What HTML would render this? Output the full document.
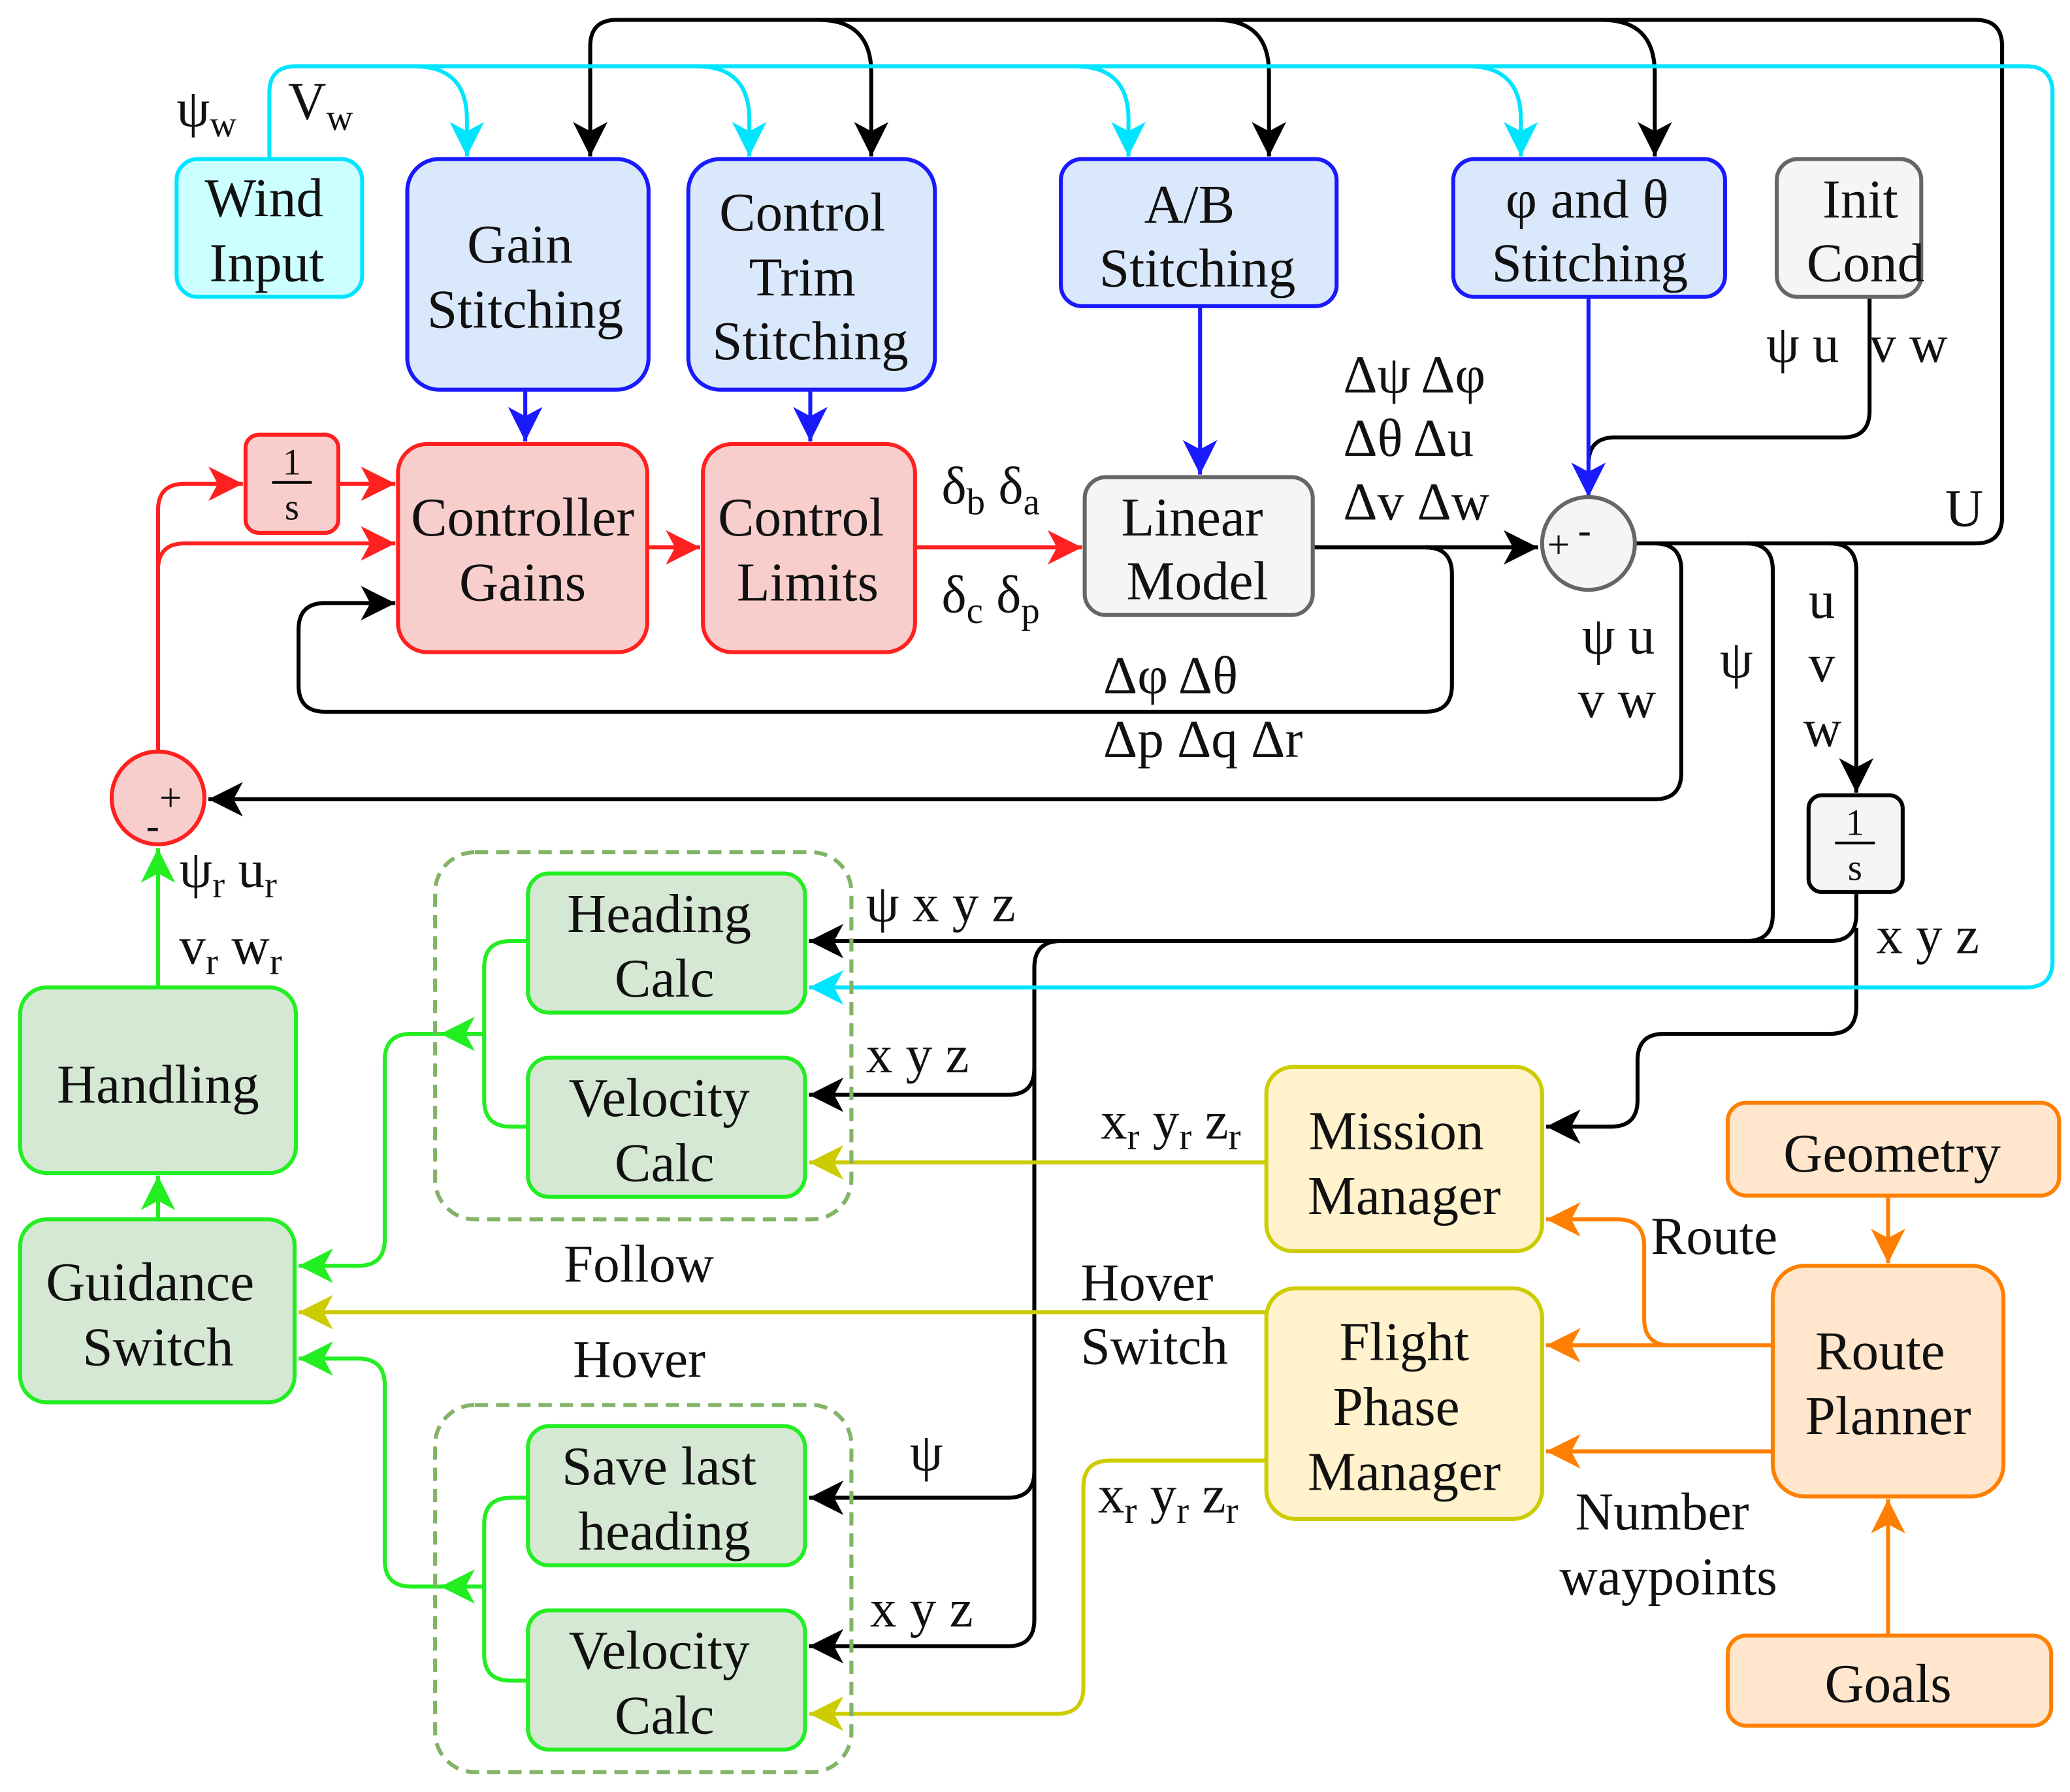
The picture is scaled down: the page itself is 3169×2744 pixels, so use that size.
<!DOCTYPE html>
<html><head><meta charset="utf-8"><style>
html,body{margin:0;padding:0;background:#fff}
svg{display:block}
text{font-family:"Liberation Serif",serif;fill:#111}
.b{font-size:41px;text-anchor:middle}
.l{font-size:40px}
</style></head><body>
<svg width="3169" height="2744" viewBox="0 0 1561 1352" xmlns="http://www.w3.org/2000/svg">
<defs>
<marker id="ak" markerUnits="userSpaceOnUse" markerWidth="30" markerHeight="30" refX="26" refY="13" orient="auto"><path d="M0,0 L26,13 L0,26 L7,13 Z" fill="#000"/></marker>
<marker id="ac" markerUnits="userSpaceOnUse" markerWidth="30" markerHeight="30" refX="26" refY="13" orient="auto"><path d="M0,0 L26,13 L0,26 L7,13 Z" fill="#00e5ff"/></marker>
<marker id="ab" markerUnits="userSpaceOnUse" markerWidth="30" markerHeight="30" refX="26" refY="13" orient="auto"><path d="M0,0 L26,13 L0,26 L7,13 Z" fill="#1a1aff"/></marker>
<marker id="ar" markerUnits="userSpaceOnUse" markerWidth="30" markerHeight="30" refX="26" refY="13" orient="auto"><path d="M0,0 L26,13 L0,26 L7,13 Z" fill="#ff2020"/></marker>
<marker id="ag" markerUnits="userSpaceOnUse" markerWidth="30" markerHeight="30" refX="26" refY="13" orient="auto"><path d="M0,0 L26,13 L0,26 L7,13 Z" fill="#22ee22"/></marker>
<marker id="ay" markerUnits="userSpaceOnUse" markerWidth="30" markerHeight="30" refX="26" refY="13" orient="auto"><path d="M0,0 L26,13 L0,26 L7,13 Z" fill="#cccc00"/></marker>
<marker id="ao" markerUnits="userSpaceOnUse" markerWidth="30" markerHeight="30" refX="26" refY="13" orient="auto"><path d="M0,0 L26,13 L0,26 L7,13 Z" fill="#ff8000"/></marker>
</defs>
<g fill="none" stroke-width="3">
<g stroke="#000">
<path d="M1233,410 H1490 Q1510,410 1510,390 V35 Q1510,15 1490,15 H465 Q445,15 445,35 V118" marker-end="url(#ak)"/>
<path d="M617,15 Q657,15 657,55 V118" marker-end="url(#ak)"/>
<path d="M917,15 Q957,15 957,55 V118" marker-end="url(#ak)"/>
<path d="M1208,15 Q1248,15 1248,55 V118" marker-end="url(#ak)"/>
<path d="M1410,224 V310 Q1410,330 1390,330 H1218 Q1198,330 1198,350"/>
<path d="M990,413 H1160" marker-end="url(#ak)"/>
<path d="M1075,413 Q1095,413 1095,433 V517 Q1095,537 1075,537 H245 Q225,537 225,517 V475 Q225,455 245,455 H298" marker-end="url(#ak)"/>
<path d="M1248,410 Q1268,410 1268,430 V583 Q1268,603 1248,603 H157" marker-end="url(#ak)"/>
<path d="M1317,410 Q1337,410 1337,430 V690 Q1337,710 1317,710 H610" marker-end="url(#ak)"/>
<path d="M1380,410 Q1400,410 1400,430 V598" marker-end="url(#ak)"/>
<path d="M1400,673 V690 Q1400,710 1380,710 H800 Q780,710 780,730 V1222 Q780,1242 760,1242 H610" marker-end="url(#ak)"/>
<path d="M780,806 Q780,826 760,826 H610" marker-end="url(#ak)"/>
<path d="M780,1110 Q780,1130 760,1130 H610" marker-end="url(#ak)"/>
<path d="M1400,700 V760 Q1400,780 1380,780 H1255 Q1235,780 1235,800 V830 Q1235,850 1215,850 H1166" marker-end="url(#ak)"/>
</g>
<g stroke="#00e5ff">
<path d="M203,120 V70 Q203,50 223,50 H1528 Q1548,50 1548,70 V725 Q1548,745 1528,745 H610" marker-end="url(#ac)"/>
<path d="M312,50 Q352,50 352,90 V118" marker-end="url(#ac)"/>
<path d="M525,50 Q565,50 565,90 V118" marker-end="url(#ac)"/>
<path d="M811,50 Q851,50 851,90 V118" marker-end="url(#ac)"/>
<path d="M1107,50 Q1147,50 1147,90 V118" marker-end="url(#ac)"/>
</g>
<g stroke="#1a1aff">
<path d="M396,294 V333" marker-end="url(#ab)"/>
<path d="M611,294 V333" marker-end="url(#ab)"/>
<path d="M905,231 V358" marker-end="url(#ab)"/>
<path d="M1198,224 V375" marker-end="url(#ab)"/>
</g>
<g stroke="#ff2020">
<path d="M488,413 H528" marker-end="url(#ar)"/>
<path d="M690,413 H816" marker-end="url(#ar)"/>
<path d="M119,567 V385 Q119,365 139,365 H183" marker-end="url(#ar)"/>
<path d="M119,430 Q119,410 139,410 H298" marker-end="url(#ar)"/>
<path d="M255,365 H298" marker-end="url(#ar)"/>
</g>
<g stroke="#22ee22">
<path d="M119,920 V887" marker-end="url(#ag)"/>
<path d="M119,745 V640" marker-end="url(#ag)"/>
<path d="M398,710 H385 Q365,710 365,730 V830 Q365,850 385,850 H398"/>
<path d="M365,780 H332" marker-end="url(#ag)"/>
<path d="M340,780 H310 Q290,780 290,800 V935 Q290,955 270,955 H225" marker-end="url(#ag)"/>
<path d="M398,1130 H385 Q365,1130 365,1150 V1248 Q365,1268 385,1268 H398"/>
<path d="M365,1197 H332" marker-end="url(#ag)"/>
<path d="M340,1197 H310 Q290,1197 290,1177 V1045 Q290,1025 270,1025 H225" marker-end="url(#ag)"/>
</g>
<g stroke="#cccc00">
<path d="M955,877 H610" marker-end="url(#ay)"/>
<path d="M955,990 H225" marker-end="url(#ay)"/>
<path d="M955,1102 H837 Q817,1102 817,1122 V1273 Q817,1293 797,1293 H610" marker-end="url(#ay)"/>
</g>
<g stroke="#ff8000">
<path d="M1424,902 V953" marker-end="url(#ao)"/>
<path d="M1424,1234 V1131" marker-end="url(#ao)"/>
<path d="M1337,1015 H1166" marker-end="url(#ao)"/>
<path d="M1260,1015 Q1240,1015 1240,995 V940 Q1240,920 1220,920 H1166" marker-end="url(#ao)"/>
<path d="M1337,1095 H1166" marker-end="url(#ao)"/>
</g>
<rect x="328" y="643" width="314" height="277" rx="30" stroke="#82b366" stroke-dasharray="10,6"/>
<rect x="328" y="1060" width="314" height="277" rx="30" stroke="#82b366" stroke-dasharray="10,6"/>
</g>
<g stroke-width="3">
<rect x="133" y="120" width="140" height="104" rx="16" fill="#ccffff" stroke="#00e5ff"/>
<rect x="307" y="120" width="182" height="174" rx="24" fill="#dae8fc" stroke="#1a1aff"/>
<rect x="519" y="120" width="186" height="174" rx="24" fill="#dae8fc" stroke="#1a1aff"/>
<rect x="800" y="120" width="208" height="111" rx="16" fill="#dae8fc" stroke="#1a1aff"/>
<rect x="1096" y="120" width="205" height="104" rx="16" fill="#dae8fc" stroke="#1a1aff"/>
<rect x="1340" y="120" width="109" height="104" rx="16" fill="#f5f5f5" stroke="#666"/>
<rect x="185" y="328" width="70" height="74" rx="10" fill="#f8cecc" stroke="#ff2020"/>
<rect x="300" y="335" width="188" height="157" rx="22" fill="#f8cecc" stroke="#ff2020"/>
<rect x="530" y="335" width="160" height="157" rx="22" fill="#f8cecc" stroke="#ff2020"/>
<rect x="818" y="360" width="172" height="104" rx="16" fill="#f5f5f5" stroke="#666"/>
<circle cx="1198" cy="410" r="35" fill="#f5f5f5" stroke="#666"/>
<circle cx="119" cy="602" r="35" fill="#f8cecc" stroke="#ff2020"/>
<rect x="1364" y="600" width="71" height="73" rx="10" fill="#f5f5f5" stroke="#000"/>
<rect x="398" y="659" width="209" height="105" rx="16" fill="#d5e8d4" stroke="#22ee22"/>
<rect x="398" y="798" width="209" height="105" rx="16" fill="#d5e8d4" stroke="#22ee22"/>
<rect x="15" y="745" width="208" height="140" rx="20" fill="#d5e8d4" stroke="#22ee22"/>
<rect x="15" y="920" width="207" height="138" rx="20" fill="#d5e8d4" stroke="#22ee22"/>
<rect x="398" y="1076" width="209" height="105" rx="16" fill="#d5e8d4" stroke="#22ee22"/>
<rect x="398" y="1215" width="209" height="105" rx="16" fill="#d5e8d4" stroke="#22ee22"/>
<rect x="955" y="805" width="208" height="139" rx="20" fill="#fff2cc" stroke="#cccc00"/>
<rect x="955" y="972" width="208" height="174" rx="22" fill="#fff2cc" stroke="#cccc00"/>
<rect x="1303" y="832" width="250" height="70" rx="14" fill="#ffe6cc" stroke="#ff8000"/>
<rect x="1337" y="955" width="174" height="174" rx="24" fill="#ffe6cc" stroke="#ff8000"/>
<rect x="1303" y="1234" width="244" height="68" rx="14" fill="#ffe6cc" stroke="#ff8000"/>
</g>
<text class="b" x="199" y="163">Wind</text><text class="b" x="201" y="212">Input</text>
<text class="b" x="392" y="198">Gain</text><text class="b" x="396" y="247">Stitching</text>
<text class="b" x="605" y="174">Control</text><text class="b" x="605" y="223">Trim</text><text class="b" x="611" y="271">Stitching</text>
<text class="b" x="897" y="168">A/B</text><text class="b" x="903" y="216">Stitching</text>
<text class="b" x="1197" y="164">φ and θ</text><text class="b" x="1199" y="212">Stitching</text>
<text class="b" x="1403" y="164" fill="#444">Init</text><text class="b" x="1407" y="212" fill="#444">Cond</text>
<text class="b" x="220" y="358" style="font-size:28px">1</text><line x1="205" y1="364" x2="235" y2="364" stroke="#000" stroke-width="2"/><text class="b" x="220" y="392" style="font-size:28px">s</text>
<text class="b" x="394" y="404">Controller</text><text class="b" x="394" y="453">Gains</text>
<text class="b" x="604" y="404">Control</text><text class="b" x="609" y="453">Limits</text>
<text class="b" x="899" y="404" fill="#444">Linear</text><text class="b" x="903" y="452" fill="#444">Model</text>
<text x="1167" y="421" style="font-size:30px">+</text><text x="1190" y="410" style="font-size:30px">-</text>
<text x="120" y="612" style="font-size:30px">+</text><text x="110" y="633" style="font-size:30px">-</text>
<text class="b" x="1399" y="630" style="font-size:28px">1</text><line x1="1384" y1="636" x2="1414" y2="636" stroke="#000" stroke-width="2"/><text class="b" x="1399" y="664" style="font-size:28px">s</text>
<text class="b" x="497" y="703">Heading</text><text class="b" x="501" y="752">Calc</text>
<text class="b" x="497" y="842">Velocity</text><text class="b" x="501" y="891">Calc</text>
<text class="b" x="119" y="832">Handling</text>
<text class="b" x="113" y="981">Guidance</text><text class="b" x="119" y="1030">Switch</text>
<text class="b" x="497" y="1120">Save last</text><text class="b" x="501" y="1169">heading</text>
<text class="b" x="497" y="1259">Velocity</text><text class="b" x="501" y="1308">Calc</text>
<text class="b" x="1053" y="867">Mission</text><text class="b" x="1059" y="916">Manager</text>
<text class="b" x="1059" y="1026">Flight</text><text class="b" x="1053" y="1075">Phase</text><text class="b" x="1059" y="1124">Manager</text>
<text class="b" x="1427" y="884">Geometry</text>
<text class="b" x="1418" y="1033">Route</text><text class="b" x="1424" y="1082">Planner</text>
<text class="b" x="1424" y="1284">Goals</text>
<text class="l" x="133" y="95">ψ<tspan font-size="28" dy="8">w</tspan></text>
<text class="l" x="217" y="90">V<tspan font-size="28" dy="8">w</tspan></text>
<text class="l" x="710" y="380">δ<tspan font-size="28" dy="8">b</tspan><tspan dy="-8"> δ</tspan><tspan font-size="28" dy="8">a</tspan></text>
<text class="l" x="710" y="462">δ<tspan font-size="28" dy="8">c</tspan><tspan dy="-8"> δ</tspan><tspan font-size="28" dy="8">p</tspan></text>
<text class="l" x="1013" y="296">Δψ Δφ</text>
<text class="l" x="1013" y="344">Δθ Δu</text>
<text class="l" x="1013" y="392">Δv Δw</text>
<text class="l" x="1332" y="273">ψ u</text><text class="l" x="1410" y="273">v w</text>
<text class="l" x="1467" y="397">U</text>
<text class="l" x="1193" y="493">ψ u</text><text class="l" x="1190" y="541">v w</text>
<text class="l" x="1297" y="511">ψ</text>
<text class="l" x="1364" y="466">u</text><text class="l" x="1364" y="514">v</text><text class="l" x="1360" y="563">w</text>
<text class="l" x="832" y="523">Δφ Δθ</text>
<text class="l" x="832" y="571">Δp Δq Δr</text>
<text class="l" x="135" y="669">ψ<tspan font-size="28" dy="8">r</tspan><tspan dy="-8"> u</tspan><tspan font-size="28" dy="8">r</tspan></text>
<text class="l" x="135" y="727">v<tspan font-size="28" dy="8">r</tspan><tspan dy="-8"> w</tspan><tspan font-size="28" dy="8">r</tspan></text>
<text class="l" x="653" y="695">ψ x y z</text>
<text class="l" x="1415" y="719">x y z</text>
<text class="l" x="653" y="809">x y z</text>
<text class="l" x="830" y="859">x<tspan font-size="28" dy="8">r</tspan><tspan dy="-8"> y</tspan><tspan font-size="28" dy="8">r</tspan><tspan dy="-8"> z</tspan><tspan font-size="28" dy="8">r</tspan></text>
<text class="l" x="425" y="967">Follow</text>
<text class="l" x="432" y="1039">Hover</text>
<text class="l" x="815" y="981">Hover</text><text class="l" x="815" y="1029">Switch</text>
<text class="l" x="1245" y="946">Route</text>
<text class="l" x="1188" y="1154">Number</text><text class="l" x="1176" y="1203">waypoints</text>
<text class="l" x="828" y="1141">x<tspan font-size="28" dy="8">r</tspan><tspan dy="-8"> y</tspan><tspan font-size="28" dy="8">r</tspan><tspan dy="-8"> z</tspan><tspan font-size="28" dy="8">r</tspan></text>
<text class="l" x="686" y="1109">ψ</text>
<text class="l" x="656" y="1227">x y z</text>
</svg>
</body></html>
